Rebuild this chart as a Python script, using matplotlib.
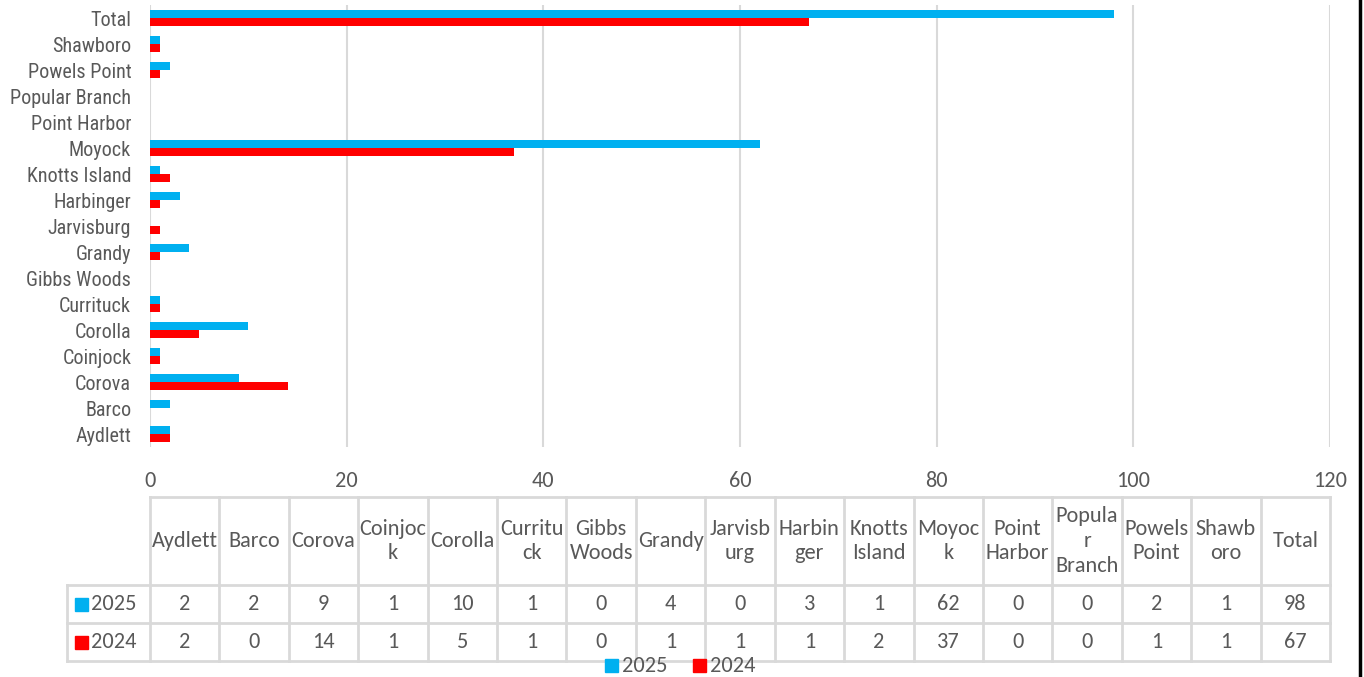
import numpy as np
import matplotlib
matplotlib.use("Agg")
import matplotlib.pyplot as plt
from matplotlib.lines import Line2D
from matplotlib.patches import Rectangle

# community names, bottom to top of the bar chart
places = ["Aydlett", "Barco", "Corova", "Coinjock", "Corolla", "Currituck",
          "Gibbs Woods", "Grandy", "Jarvisburg", "Harbinger", "Knotts Island",
          "Moyock", "Point Harbor", "Popular Branch", "Powels Point",
          "Shawboro", "Total"]
# wrapped header text used in the data table
headers = ["Aydlett", "Barco", "Corova", "Coinjoc\nk", "Corolla", "Curritu\nck",
           "Gibbs\nWoods", "Grandy", "Jarvisb\nurg", "Harbin\nger",
           "Knotts\nIsland", "Moyoc\nk", "Point\nHarbor", "Popula\nr\nBranch",
           "Powels\nPoint", "Shawb\noro", "Total"]
counts_2025 = [2, 2, 9, 1, 10, 1, 0, 4, 0, 3, 1, 62, 0, 0, 2, 1, 98]
counts_2024 = [2, 0, 14, 1, 5, 1, 0, 1, 1, 1, 2, 37, 0, 0, 1, 1, 67]
series = [("2025", counts_2025, "#00b0f0"), ("2024", counts_2024, "#ff0000")]
x_ticks = [0, 20, 40, 60, 80, 100, 120]

W, H = 1364, 677
TXT = "#595959"
GRID = "#d9d9d9"
tfont = ["Carlito", "Lato", "DejaVu Sans"]
yfont = ["Roboto Condensed", "PT Sans Narrow", "Liberation Sans"]
FS = 16

fig = plt.figure(figsize=(W / 100, H / 100), dpi=100)

def px_axes(x0, y0, x1, y1):
    return fig.add_axes([x0 / W, 1 - y1 / H, (x1 - x0) / W, (y1 - y0) / H])

# --- bar chart ---
ax = px_axes(150, 5, 1330, 447)
y = np.arange(len(places))
bh = 0.29
ax.barh(y + bh / 2, counts_2025, height=bh, color=series[0][2], zorder=3)
ax.barh(y - bh / 2, counts_2024, height=bh, color=series[1][2], zorder=3)
ax.set_ylim(-0.5, len(places) - 0.5)
ax.set_xlim(0, 120)
ax.set_xticks(x_ticks)
ax.set_yticks(y)
ax.set_yticklabels(places, fontfamily=yfont, fontsize=14.5, color=TXT)
ax.tick_params(axis="y", length=0, pad=13.5)
ax.tick_params(axis="x", length=0, pad=17, labelsize=FS, labelcolor=TXT)
for lab in ax.get_xticklabels():
    lab.set_fontfamily(tfont)
ax.xaxis.grid(True, color=GRID, linewidth=1.5, zorder=0)
for s in ax.spines.values():
    s.set_visible(False)

# --- data table below the chart ---
tab = px_axes(150, 497, 1330, 661)
n = len(headers)
tab.set_xlim(0, n)
tab.set_ylim(164, 0)
tab.axis("off")
cw = 1180 / n
lab_left = -83 / cw
row_edges = [0, 88, 126, 164]
lk = dict(color=GRID, linewidth=2, clip_on=False)

tab.add_line(Line2D([0, n], [0, 0], **lk))
for ry in row_edges[1:]:
    tab.add_line(Line2D([lab_left, n], [ry, ry], **lk))
for i in range(n + 1):
    tab.add_line(Line2D([i, i], [0, 164], **lk))
tab.add_line(Line2D([lab_left, lab_left], [88, 164], **lk))

for i, h in enumerate(headers):
    tab.text(i + 0.5, 44, h, ha="center", va="center", fontsize=FS,
             family=tfont, color=TXT, linespacing=1.3)

for r, (name, vals, col) in enumerate(series):
    yc = (row_edges[r + 1] + row_edges[r + 2]) / 2
    for i, v in enumerate(vals):
        tab.text(i + 0.5, yc, str(v), ha="center", va="center", fontsize=FS,
                 family=tfont, color=TXT)
    tab.add_patch(Rectangle((lab_left + 8 / cw, yc - 6.5), 13 / cw, 13,
                            color=col, clip_on=False))
    tab.text(lab_left + 24 / cw, yc, name, ha="left", va="center",
             fontsize=FS, family=tfont, color=TXT)

# --- legend under the table ---
lx = 605
for name, vals, col in series:
    fig.patches.append(Rectangle((lx / W, 1 - 672 / H), 13 / W, 13 / H,
                                 color=col, transform=fig.transFigure))
    fig.text((lx + 17) / W, 1 - 666 / H, name, ha="left", va="center",
             fontsize=FS, family=tfont, color=TXT)
    lx += 88

# right frame edge
fig.add_artist(Line2D([1359.5 / W, 1359.5 / W], [0, 1], color="black",
                      linewidth=2.5, transform=fig.transFigure))

fig.savefig("out.png", dpi=100)
